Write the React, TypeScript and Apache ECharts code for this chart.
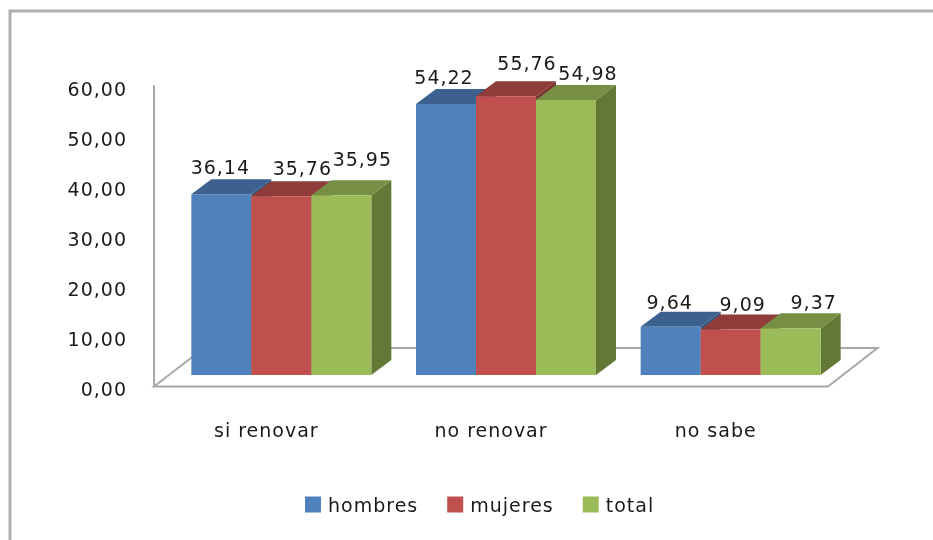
import React, { useEffect, useRef } from "react";
import * as echarts from "echarts";

const categories = ["si renovar", "no renovar", "no sabe"];
const hombres = [36.14, 54.22, 9.64];
const mujeres = [35.76, 55.76, 9.09];
const total = [35.95, 54.98, 9.37];

const seriesNames = ["hombres", "mujeres", "total"];
const seriesValues = [hombres, mujeres, total];
const frontColors = ["#4f81bd", "#c0504d", "#9bbb59"];
const topColors = ["#3c618e", "#8f3c3a", "#778f45"];
const sideColors = ["#345579", "#7a3331", "#647836"];

// hand placement of the value labels, relative to the top centre of each bar: [dx, dy] per series per category
const labelOffsets = [
  [[-1, -27], [-2, -27], [-1, -25]],
  [[21, -28], [21, -33], [12, -26]],
  [[21, -36], [22, -27], [23, -26]],
];

const fmt = (v: number) => v.toFixed(2).replace(".", ",");
const GRAY = "#a8a8a8";
const FONT = '"DejaVu Sans"';
const BAR_W = 60;
const DX = 20;
const DY = -15;
const FLOOR_LIFT = 11;
const GROUP_SHIFT = 15;

function makeRender(s: number) {
  return (_: any, api: any) => {
    const cat = api.value(0);
    const p = api.coord([cat, api.value(1)]);
    const base = api.coord([cat, 0]);
    const x0 = p[0] + GROUP_SHIFT - (BAR_W * 3) / 2 + s * BAR_W;
    const x1 = x0 + BAR_W;
    const top = p[1] - FLOOR_LIFT;
    const bot = base[1] - FLOOR_LIFT;
    const [ox, oy] = labelOffsets[s][cat];
    return {
      type: "group",
      children: [
        {
          type: "polygon",
          shape: { points: [[x1, top], [x1 + DX, top + DY], [x1 + DX, bot + DY], [x1, bot]] },
          style: { fill: sideColors[s] },
        },
        {
          type: "polygon",
          shape: { points: [[x0, top], [x0 + DX, top + DY], [x1 + DX, top + DY], [x1, top]] },
          style: { fill: topColors[s] },
        },
        {
          type: "rect",
          shape: { x: x0, y: top, width: BAR_W, height: bot - top },
          style: { fill: frontColors[s] },
        },
        {
          type: "text",
          z2: 100,
          x: (x0 + x1) / 2 + ox,
          y: top + oy,
          style: {
            text: fmt(api.value(1)),
            fill: "#1a1a1a",
            font: `19px ${FONT}`,
            textAlign: "center",
            textVerticalAlign: "middle",
          },
        },
      ],
    };
  };
}

export default function App() {
  const ref = useRef<HTMLDivElement>(null);
  useEffect(() => {
    document.body.style.margin = "0";
    const chart = echarts.init(ref.current!, undefined, { renderer: "svg" });
    chart.setOption({
      animation: false,
      backgroundColor: "#ffffff",
      grid: { left: 154, top: 86, right: 105, height: 300 },
      legend: {
        left: 305,
        top: 495,
        padding: 0,
        itemWidth: 16,
        itemHeight: 16,
        itemGap: 36,
        data: seriesNames.map((name, i) => ({ name, icon: "rect", itemStyle: { color: frontColors[i] } })),
        textStyle: { fontFamily: FONT, fontSize: 19, color: "#1a1a1a", padding: [0, 0, 4, 2] },
      },
      xAxis: {
        type: "category",
        data: categories,
        axisLine: { show: false },
        axisTick: { show: false },
        axisLabel: { fontFamily: FONT, fontSize: 19, color: "#1a1a1a", margin: 34 },
      },
      yAxis: {
        type: "value",
        min: 0,
        max: 60,
        interval: 10,
        splitLine: { show: false },
        axisTick: { show: false },
        axisLine: { show: true, lineStyle: { color: GRAY, width: 2 } },
        axisLabel: {
          fontFamily: FONT,
          fontSize: 19,
          color: "#1a1a1a",
          margin: 27,
          verticalAlign: "top",
          lineHeight: 5,
          formatter: (v: number) => fmt(v),
        },
      },
      graphic: [
        {
          type: "polyline",
          silent: true,
          shape: { points: [[10, 540], [10, 11], [933, 11]] },
          style: { stroke: "#b0b0b0", lineWidth: 3, fill: "none" },
        },
        {
          type: "polygon",
          silent: true,
          shape: { points: [[154, 386.5], [204, 348], [877.5, 348], [828, 386.5]] },
          style: { stroke: GRAY, lineWidth: 2, fill: "#ffffff" },
        },
      ],
      series: seriesNames.map((name, s) => ({
        type: "custom",
        name,
        clip: false,
        coordinateSystem: "cartesian2d",
        encode: { x: 0, y: 1 },
        itemStyle: { color: frontColors[s] },
        data: seriesValues[s].map((v, i) => [i, v]),
        renderItem: makeRender(s),
      })),
    });
    return () => chart.dispose();
  }, []);
  return (
    <div
      ref={ref}
      style={{ width: 933, height: 540, letterSpacing: "1px", filter: "blur(0.5px)" }}
    />
  );
}
